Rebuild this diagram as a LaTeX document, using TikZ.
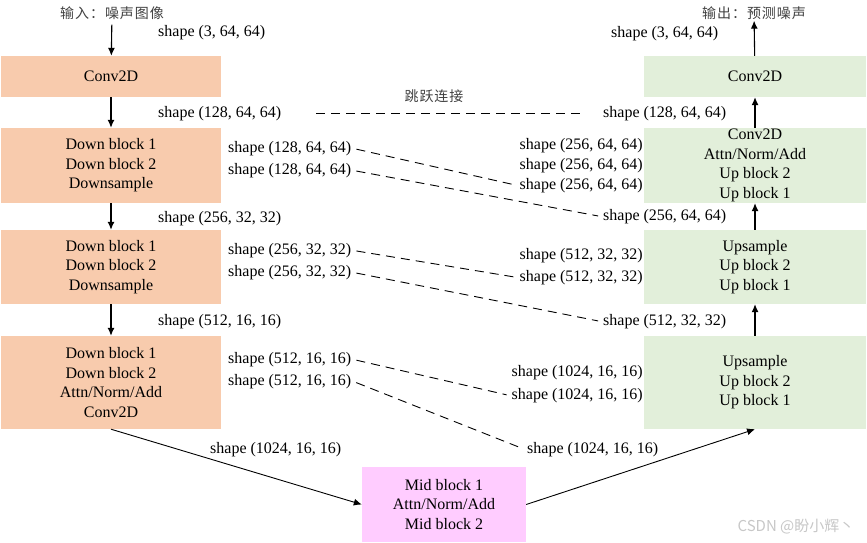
\documentclass[tikz,border=0pt]{standalone}
\usepackage{fontspec}
\setmainfont{Liberation Serif}
\newfontfamily\cjkfont{Noto Sans CJK SC}
\newfontfamily\cjknote[LetterSpace=7]{Noto Sans CJK SC}
\usetikzlibrary{arrows.meta}

\definecolor{downfill}{HTML}{F8CBAD}
\definecolor{upfill}{HTML}{E2EFDA}
\definecolor{midfill}{HTML}{FFCCFF}

\tikzstyle{block}=[rectangle, align=center, inner sep=0pt, font=\fontsize{16}{19.5}\selectfont]
\tikzstyle{downbox}=[block, fill=downfill, minimum width=220pt]
\tikzstyle{upbox}=[block, fill=upfill, minimum width=222pt]
\tikzstyle{shp}=[inner sep=2pt, yshift=-1.5pt, font=\fontsize{16}{19.5}\selectfont]
\tikzstyle{note}=[inner sep=1pt, text=black!75, font=\cjknote\fontsize{14}{16}\selectfont]
\tikzstyle{flow}=[draw, line width=1.1pt, -{Latex[length=8pt,width=7pt]}]
\tikzstyle{skipline}=[draw, line width=0.9pt, dash pattern=on 9pt off 6pt, shorten <=3pt, shorten >=3pt]

\begin{document}
\begin{tikzpicture}[x=1pt, y=-1pt]
    \useasboundingbox (0,0) rectangle (867,543);
    % encoder
    \node[downbox, minimum height=41pt] (convin) at (111,76.5) {Conv2D};
    \node[downbox, minimum height=75pt] (down1) at (111,165.5) {Down block 1\\Down block 2\\Downsample};
    \node[downbox, minimum height=74pt] (down2) at (111,267) {Down block 1\\Down block 2\\Downsample};
    \node[downbox, minimum height=93pt] (down3) at (111,382.5) {Down block 1\\Down block 2\\Attn/Norm/Add\\Conv2D};
    % middle
    \node[block, fill=midfill, minimum width=164pt, minimum height=75pt] (mid) at (444,504.5) {Mid block 1\\Attn/Norm/Add\\Mid block 2};
    % decoder
    \node[upbox, minimum height=41pt] (convout) at (755,76.5) {Conv2D};
    \node[upbox, minimum height=75pt] (up1) at (755,165.5) {Conv2D\\Attn/Norm/Add\\Up block 2\\Up block 1};
    \node[upbox, minimum height=74pt] (up2) at (755,267) {Upsample\\Up block 2\\Up block 1};
    \node[upbox, minimum height=93pt] (up3) at (755,382.5) {Upsample\\Up block 2\\Up block 1};

    \node[note] (input) at (112,13) {输入：噪声图像};
    \node[note] (output) at (754,13) {输出：预测噪声};
    \node[note] (skiptext) at (434,96) {跳跃连接};

    % shapes on the main path
    \foreach \pos/\name/\txt in {{(156,31)/a0/{3, 64, 64}}, {(156,112)/a1/{128, 64, 64}}, {(156,217)/a2/{256, 32, 32}}, {(156,320)/a3/{512, 16, 16}},
            {(609,32)/b0/{3, 64, 64}}, {(601,112)/b1/{128, 64, 64}}, {(601,215)/b2/{256, 64, 64}}, {(601,320)/b3/{512, 32, 32}},
            {(208,448)/c1/{1024, 16, 16}}, {(525,448)/c2/{1024, 16, 16}}}
        \node[shp, anchor=west] (\name) at \pos {shape (\txt)};
    % shapes beside the encoder
    \foreach \pos/\name/\txt in {{(226,147)/l1a/{128, 64, 64}}, {(226,169)/l1b/{128, 64, 64}}, {(226,249)/l2a/{256, 32, 32}},
            {(226,271)/l2b/{256, 32, 32}}, {(226,358)/l3a/{512, 16, 16}}, {(226,380)/l3b/{512, 16, 16}}}
        \node[shp, anchor=west] (\name) at \pos {shape (\txt)};
    % shapes beside the decoder
    \foreach \pos/\name/\txt in {{(645,144)/r1a/{256, 64, 64}}, {(645,164)/r1b/{256, 64, 64}}, {(645,184)/r1c/{256, 64, 64}},
            {(645,254)/r2a/{512, 32, 32}}, {(645,276)/r2b/{512, 32, 32}}, {(645,371)/r3a/{1024, 16, 16}}, {(645,394)/r3b/{1024, 16, 16}}}
        \node[shp, anchor=east] (\name) at \pos {shape (\txt)};

    % main path
    \path[flow, shorten <=4pt] (input) -- (convin);
    \foreach \source/\dest in {convin/down1, down1/down2, down2/down3, up3/up2, up2/up1, up1/convout}
        \path[flow] (\source) -- (\dest);
    \path[flow] (convout) -- (output);
    \path[flow, line width=0.9pt] (down3.south) -- (mid.west);
    \path[flow, line width=0.9pt] (mid.east) -- (up3.south);

    % skip connections
    \path[skipline, shorten <=33pt, shorten >=20pt] (a1) -- (b1);
    \foreach \source/\dest in {l1a/r1c, l1b/b2, l2a/r2b, l2b/b3, l3a/r3b, l3b/c2}
        \path[skipline] (\source.east) -- (\dest.west);

    \node[text=black!22, inner sep=0pt, font=\cjkfont\fontsize{15}{17}\selectfont] (mark) at (796,527) {CSDN @盼小辉丶};
\end{tikzpicture}
\end{document}
